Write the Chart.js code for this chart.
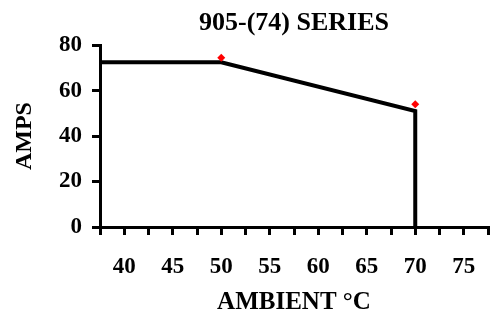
<!DOCTYPE html>
<html>
<head>
<meta charset="utf-8">
<script src="https://cdn.jsdelivr.net/npm/chart.js@4"></script>
<style>
  html, body { margin: 0; padding: 0; background: #fff; }
  #wrap { width: 492px; height: 315px; }
</style>
</head>
<body>
<div id="wrap"><canvas id="chart"></canvas></div>
<script>
// derating curve (ambient temp vs amps)
var curveTemp = [37.5, 50, 70, 70];
var curveAmps = [72.5, 72.5, 51, 0];
// red markers
var markTemp = [50, 70];
var markAmps = [74.5, 54];

var serif = "'Liberation Serif', 'Times New Roman', serif";

function toPoints(xs, ys) {
    var pts = [];
    for (var i = 0; i < xs.length; i++) {
        pts.push({x: xs[i], y: ys[i]});
    }
    return pts;
}

var ctx = document.getElementById('chart');
var chart = new Chart(ctx, {
    type: 'scatter',
    data: {
        datasets: [{
            data: toPoints(curveTemp, curveAmps),
            showLine: true,
            borderColor: '#000',
            borderWidth: 4,
            pointRadius: 0,
            tension: 0,
            order: 2
        }, {
            data: toPoints(markTemp, markAmps),
            pointStyle: 'rectRot',
            pointRadius: 4,
            backgroundColor: '#ff0000',
            borderColor: '#ff0000',
            borderWidth: 0,
            order: 1
        }]
    },
    options: {
        responsive: true,
        maintainAspectRatio: false,
        animation: false,
        layout: { padding: { left: 0, right: 2, top: 0, bottom: 0 } },
        plugins: {
            legend: { display: false },
            tooltip: { enabled: false },
            title: {
                display: true,
                fullSize: false,
                text: '905-(74) SERIES',
                color: '#000',
                font: { family: serif, size: 26, weight: 'bold' },
                padding: { top: 8, bottom: 6 }
            }
        },
        scales: {
            x: {
                type: 'linear',
                min: 37.5,
                max: 77.5,
                border: { color: '#000', width: 3 },
                grid: { drawOnChartArea: false, color: '#000', lineWidth: 3, tickLength: 8 },
                ticks: {
                    stepSize: 2.5,
                    color: '#000',
                    padding: 18,
                    maxRotation: 0,
                    autoSkip: false,
                    font: { family: serif, size: 23, weight: 'bold' },
                    callback: function(v) {
                        return (v % 5 === 0) ? v : '';
                    }
                },
                title: {
                    display: true,
                    text: 'AMBIENT °C',
                    color: '#000',
                    font: { family: serif, size: 25, weight: 'bold', lineHeight: 1 },
                    padding: { top: 4, bottom: 0 }
                },
                afterFit: function(scale) {
                    scale.height = 88;
                    scale.paddingLeft = 0;
                    scale.paddingRight = 0;
                }
            },
            y: {
                min: 0,
                max: 80,
                border: { color: '#000', width: 3 },
                grid: { drawOnChartArea: false, color: '#000', lineWidth: 3, tickLength: 8 },
                ticks: {
                    stepSize: 20,
                    color: '#000',
                    padding: 10,
                    font: { family: serif, size: 23, weight: 'bold' }
                },
                title: {
                    display: true,
                    text: 'AMPS',
                    color: '#000',
                    font: { family: serif, size: 24, weight: 'bold' },
                    padding: { top: 10, bottom: 2 }
                },
                afterFit: function(scale) { scale.width = 100; }
            }
        }
    }
});
</script>
</body>
</html>
